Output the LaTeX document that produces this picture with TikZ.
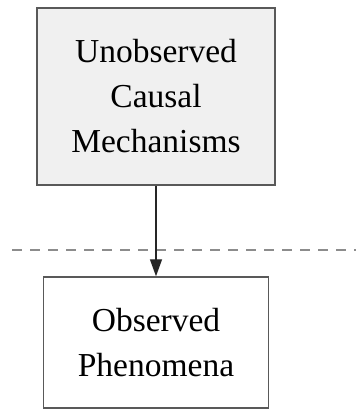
\documentclass[tikz,border=0pt]{standalone}
\usepackage{fontspec}
\setmainfont{Liberation Serif}
\usetikzlibrary{arrows.meta,positioning}

\begin{document}
\begin{tikzpicture}[
  box/.style={draw=black!65, line width=1.4pt, align=center, inner sep=0pt,
    font=\fontsize{33.5}{45}\selectfont},
  hidden/.style={box, fill=black!6, minimum width=238pt, minimum height=177pt},
  seen/.style={box, fill=white, minimum width=225pt, minimum height=131pt},
  cause/.style={-{Triangle[length=17pt,width=12pt]}, line width=1.3pt, black!85},
  veil/.style={black!45, line width=1.8pt, dash pattern=on 10pt off 8pt}
]
\useasboundingbox (0,0) rectangle (356pt,-409pt);

\node [hidden] (unobs) at (156pt,-96.5pt) {Unobserved\\Causal\\Mechanisms};
\node [seen] (obs) at (156pt,-342.5pt) {Observed\\Phenomena};

\coordinate (veilL) at (12pt,-250pt);
\coordinate (veilR) at (356pt,-250pt);
\draw [veil] (veilL) -- (veilR);

\draw [cause] (unobs.south) -- (obs.north);
\end{tikzpicture}
\end{document}
